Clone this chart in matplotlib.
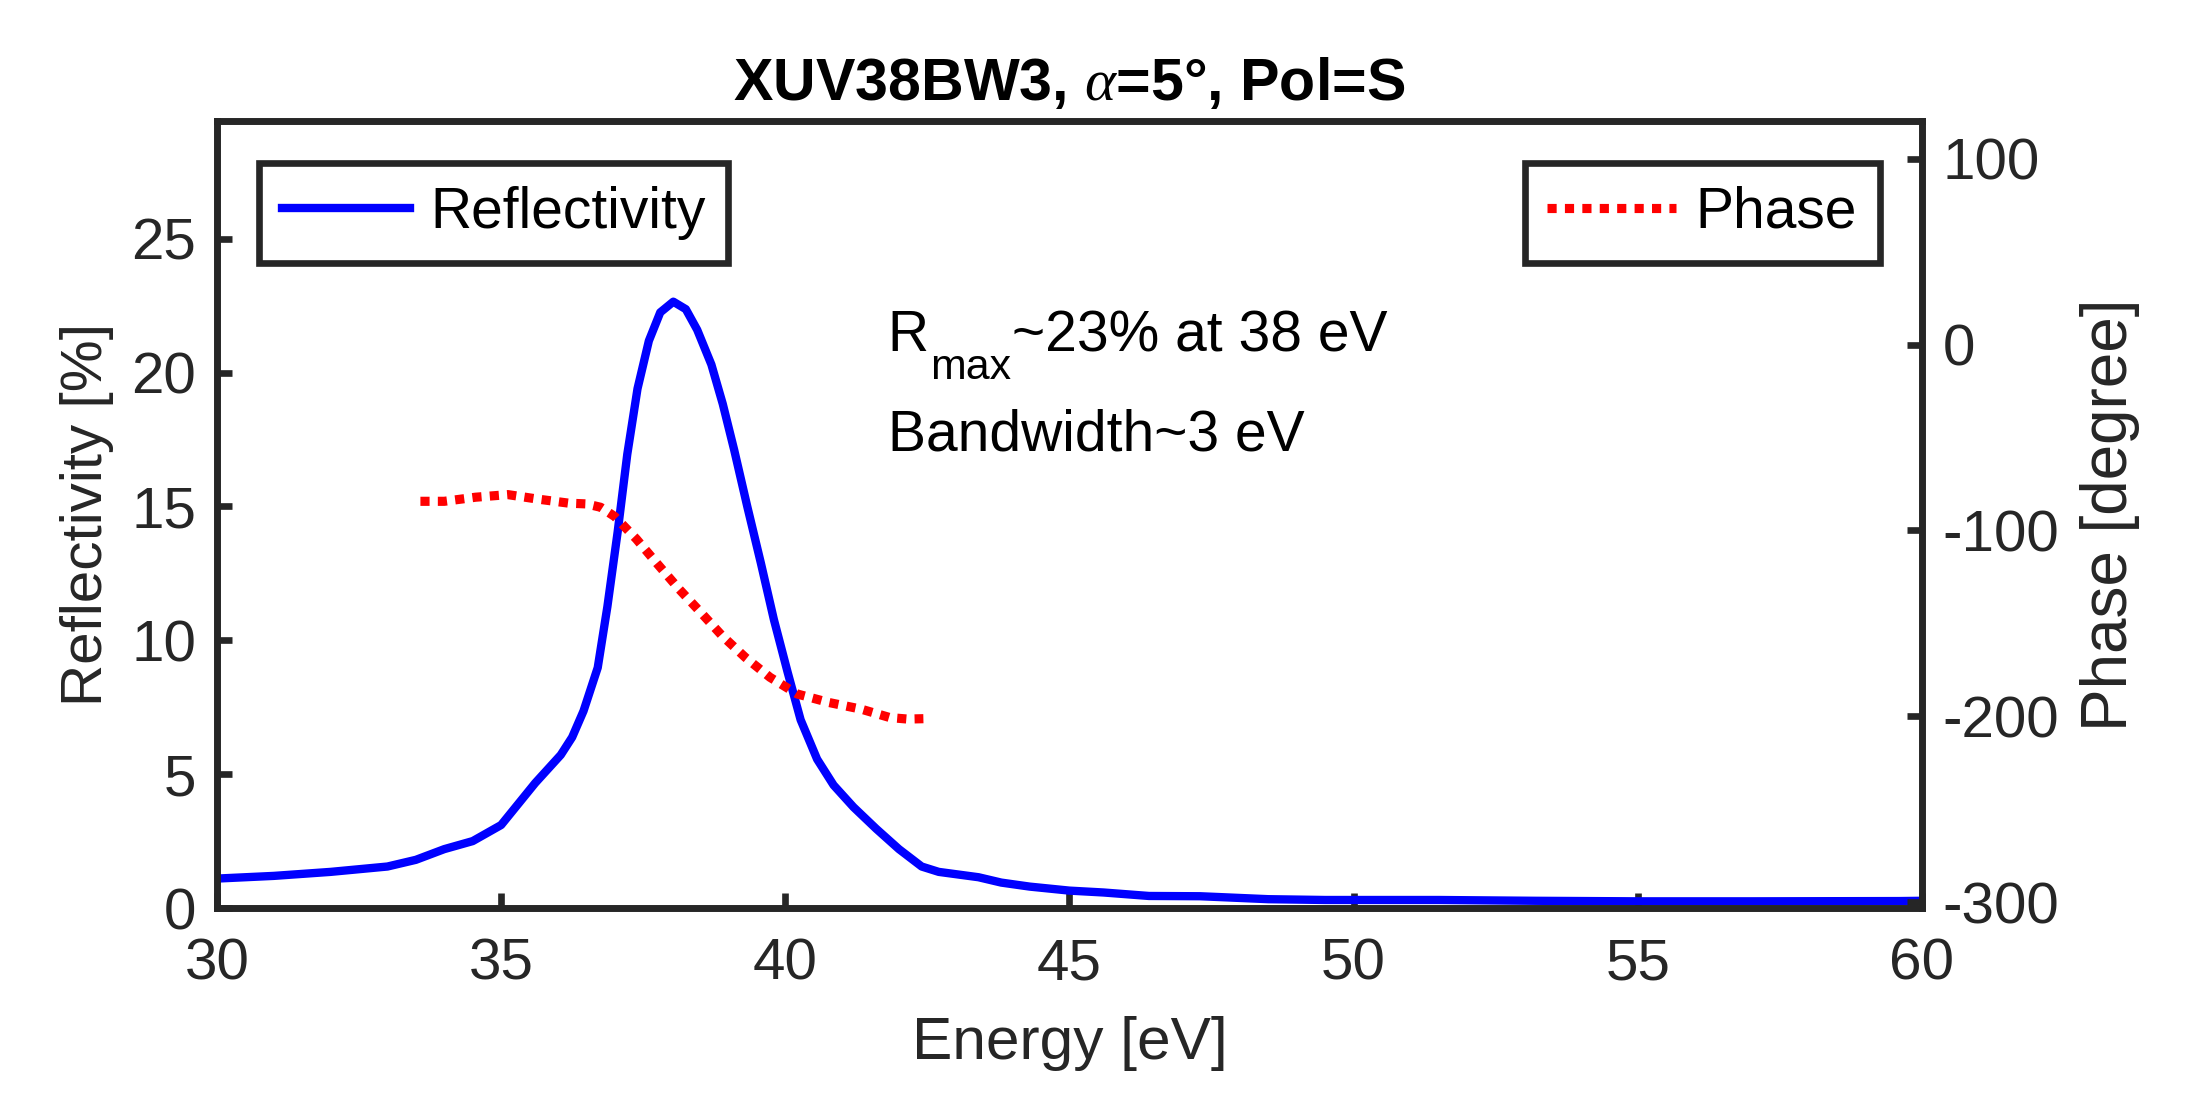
import matplotlib
matplotlib.use("Agg")
import matplotlib.pyplot as plt
from matplotlib.transforms import IdentityTransform

plt.rcParams['font.family'] = ['Liberation Sans', 'DejaVu Sans']
plt.rcParams['axes.unicode_minus'] = False
plt.rcParams['mathtext.fontset'] = 'custom'
plt.rcParams['mathtext.rm'] = 'Liberation Sans'
plt.rcParams['mathtext.it'] = 'Liberation Serif:italic'
plt.rcParams['mathtext.bf'] = 'Liberation Sans:bold'

# ---- data ----
energy_R = [30, 31, 32, 33, 33.5, 34, 34.5, 35, 35.6, 36.05, 36.25, 36.45, 36.7, 36.87,
            37.05, 37.22, 37.4, 37.6, 37.8, 38.03, 38.25, 38.45, 38.7, 38.9, 39.1, 39.33,
            39.57, 39.8, 40.04, 40.27, 40.56, 40.85, 41.2, 41.6, 42.0, 42.4, 42.7, 43.4,
            43.8, 44.3, 45.0, 45.6, 46.4, 47.3, 48.5, 49.5, 50.5, 51.5, 53.2, 55, 57, 59.6, 60]
reflectivity = [1.1, 1.2, 1.35, 1.55, 1.8, 2.2, 2.5, 3.1, 4.67, 5.72, 6.38, 7.36, 8.98, 11.26,
                14.04, 16.95, 19.4, 21.19, 22.25, 22.65, 22.37, 21.6, 20.3, 18.83, 17.12, 15.01,
                12.89, 10.77, 8.82, 7.03, 5.56, 4.59, 3.77, 2.96, 2.2, 1.55, 1.35, 1.15,
                0.95, 0.8, 0.65, 0.58, 0.45, 0.44, 0.33, 0.3, 0.3, 0.3, 0.27, 0.25, 0.25, 0.26, 0.27]

energy_P = [33.58, 34.0, 34.55, 35.12, 35.62, 36.19, 36.5, 36.75, 37.0, 37.38, 37.75, 38.13,
            38.51, 38.89, 39.3, 39.73, 40.21, 40.77, 41.34, 41.84, 42.15, 42.43]
phase = [-84.3, -84.3, -82.1, -80.7, -83.0, -85.3, -85.7, -87.5, -92.5, -104.6, -118.0, -131.5,
         -144.0, -156.7, -168.4, -179.0, -188.0, -192.6, -196.2, -200.7, -201.5, -201.3]

x_ticks = [30, 35, 40, 45, 50, 55, 60]
yL_ticks = [0, 5, 10, 15, 20, 25]
yR_ticks = [-300, -200, -100, 0, 100]

title = r'XUV38BW3, $\alpha$=5°, Pol=S'
note1_main = 'R'
note1_sub = 'max'
note1_rest = '~23% at 38 eV'
note2 = 'Bandwidth~3 eV'
note_x = 41.8
note1_y = 20.8
note2_y = 17.08

# ---- figure ----
DPI = 300
fig = plt.figure(figsize=(7.29, 3.6467), dpi=DPI)
ax = fig.add_axes([0.0992, 0.170, 0.7796, 0.7194])
ax2 = ax.twinx()

dark = '0.15'
fs_tick = 14
fs_note = 13.7
lw_sp = 1.6

lineR, = ax.plot(energy_R, reflectivity, color=(0, 0, 1), lw=2.0, label='Reflectivity')
lineP, = ax2.plot(energy_P, phase, color=(1, 0, 0), lw=2.2, linestyle=(0, (1, 0.9)), label='Phase')

ax.set_xlim(30, 60)
ax.set_ylim(0, 29.4)
ax2.set_ylim(-303.2, 120.4)
ax.set_xticks(x_ticks)
ax.set_yticks(yL_ticks)
ax2.set_yticks(yR_ticks)

for a in (ax, ax2):
    for s in a.spines.values():
        s.set_color(dark)
        s.set_linewidth(lw_sp)

ax.tick_params(axis='both', direction='in', length=3.7, width=lw_sp, colors=dark,
               labelsize=fs_tick, top=False, right=False)
ax.tick_params(axis='x', pad=7)
ax.tick_params(axis='y', pad=5)
ax2.tick_params(axis='y', direction='in', length=3.7, width=lw_sp, colors=dark,
                labelsize=fs_tick, pad=5)

ax.set_xlabel('Energy [eV]', fontsize=14.5, color=dark, labelpad=6)
ax.set_ylabel('Reflectivity [%]', fontsize=14, color=dark, labelpad=4)
ax2.set_ylabel('Phase [degree]', fontsize=15.3, color=dark, labelpad=5)
ax.set_title(title, fontsize=14.2, fontweight='bold', color='black', pad=5)

# annotation: R with a lowered subscript, then the rest
tR = ax.text(note_x, note1_y, note1_main, fontsize=fs_note, color='black', va='baseline', ha='left')
ax.text(note_x, note2_y, note2, fontsize=fs_note, color='black', va='baseline', ha='left')
fig.canvas.draw()
bx, by = ax.transData.transform((note_x, note1_y))
bbR = tR.get_window_extent()
sub_drop = 28 * DPI / 300.0
tS = fig.text(bbR.x1 + 1, by - sub_drop, note1_sub, fontsize=10.3, color='black',
              va='baseline', ha='left', transform=IdentityTransform())
fig.canvas.draw()
bbS = tS.get_window_extent()
fig.text(bbS.x1 + 1, by, note1_rest, fontsize=fs_note, color='black',
         va='baseline', ha='left', transform=IdentityTransform())

leg_kw = dict(frameon=True, fancybox=False, edgecolor=dark, facecolor='white', framealpha=1,
              fontsize=fs_note, handlelength=2.25, handletextpad=0.35, borderpad=0.4,
              borderaxespad=0)
leg1 = ax.legend([lineR], ['Reflectivity'], loc='upper left',
                 bbox_to_anchor=(0.0246, 0.9467), **leg_kw)
leg2 = ax2.legend([lineP], ['Phase'], loc='upper right',
                  bbox_to_anchor=(0.9754, 0.9467), **leg_kw)
for lg in (leg1, leg2):
    lg.get_frame().set_linewidth(lw_sp)

fig.savefig('out.png', dpi=DPI)
